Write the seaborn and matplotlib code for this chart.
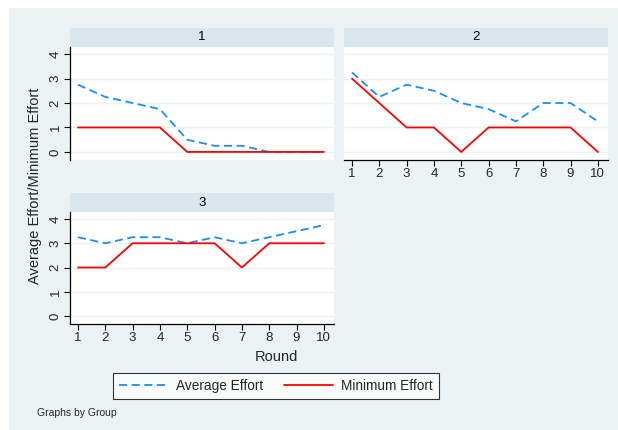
import matplotlib
matplotlib.use("Agg")
import matplotlib.pyplot as plt
import seaborn as sns
import pandas as pd
from matplotlib.lines import Line2D

sns.set_theme(style="white")
plt.rcParams['font.family'] = ['Liberation Sans', 'DejaVu Sans']

rounds = [1, 2, 3, 4, 5, 6, 7, 8, 9, 10]
groups = ["1", "2", "3"]
avg_effort = {
    "1": [2.75, 2.25, 2.0, 1.75, 0.5, 0.25, 0.25, 0.0, 0.0, 0.0],
    "2": [3.25, 2.25, 2.75, 2.5, 2.0, 1.75, 1.25, 2.0, 2.0, 1.25],
    "3": [3.25, 3.0, 3.25, 3.25, 3.0, 3.25, 3.0, 3.25, 3.5, 3.75],
}
min_effort = {
    "1": [1, 1, 1, 1, 0, 0, 0, 0, 0, 0],
    "2": [3, 2, 1, 1, 0, 1, 1, 1, 1, 0],
    "3": [2, 2, 3, 3, 3, 3, 2, 3, 3, 3],
}
yticks = [0, 1, 2, 3, 4]
legend_labels = ["Average Effort", "Minimum Effort"]

W, H = 618, 430
BG = "#EAF2F3"
STRIP = "#D9E6EC"
BLUE = "#1A8CFF"
RED = "#FF0000"

fig = plt.figure(figsize=(W / 100, H / 100), dpi=100)
fig.patch.set_facecolor("white")
fig.add_artist(plt.Rectangle((9 / W, 0), 1 - 9 / W, 1 - 8 / H, transform=fig.transFigure,
                             facecolor=BG, edgecolor="none", zorder=-10))


def box(x0, y0, x1, y1):
    return [x0 / W, 1 - y1 / H, (x1 - x0) / W, (y1 - y0) / H]


layout = {
    "1": dict(x0=70, x1=334, ys=28, yp=47, yb=160, left=True, bottom=False),
    "2": dict(x0=344, x1=608, ys=28, yp=47, yb=160, left=False, bottom=True),
    "3": dict(x0=70, x1=334, ys=193, yp=212, yb=324, left=True, bottom=True),
}

for g in groups:
    L = layout[g]
    sax = fig.add_axes(box(L["x0"], L["ys"], L["x1"], L["yp"]))
    sax.set_facecolor(STRIP)
    sax.set_xticks([]); sax.set_yticks([])
    for s in sax.spines.values():
        s.set_visible(False)
    sax.text(0.5, 0.5, g, ha="center", va="center", fontsize=9.5, color="black",
             transform=sax.transAxes)

    ax = fig.add_axes(box(L["x0"], L["yp"], L["x1"], L["yb"]))
    ax.set_facecolor("white")
    df = pd.DataFrame({"Round": rounds, "avg": avg_effort[g], "min": min_effort[g]})
    for yv in yticks:
        ax.axhline(yv, color=BG, lw=1.0, zorder=0)
    sns.lineplot(data=df, x="Round", y="avg", ax=ax, color=BLUE, lw=1.3,
                 linestyle=(0, (4.5, 2.5)), zorder=3)
    sns.lineplot(data=df, x="Round", y="min", ax=ax, color=RED, lw=1.3, zorder=3)
    ax.set_xlim(0.71, 10.37)
    ax.set_ylim(-0.33, 4.29)
    ax.set_xlabel(""); ax.set_ylabel("")
    for s in ["top", "right"]:
        ax.spines[s].set_visible(False)
    ax.spines["left"].set_visible(L["left"])
    ax.spines["bottom"].set_visible(L["bottom"])
    ax.spines["left"].set_color("black"); ax.spines["bottom"].set_color("black")
    ax.spines["left"].set_linewidth(0.9); ax.spines["bottom"].set_linewidth(0.9)
    if L["left"]:
        ax.set_yticks(yticks)
        ax.set_yticklabels([str(v) for v in yticks], rotation=90, va="center", fontsize=9.5)
        ax.tick_params(axis="y", left=True, length=4, width=0.8, color="black", pad=2)
    else:
        ax.set_yticks([])
    if L["bottom"]:
        ax.set_xticks(rounds)
        ax.set_xticklabels([str(r) for r in rounds], fontsize=9.5)
        ax.tick_params(axis="x", bottom=True, length=4, width=0.8, color="black", pad=2)
    else:
        ax.set_xticks([])
    ax.grid(False)

fig.text(35 / W, 1 - 186 / H, "Average Effort/Minimum Effort", rotation=90,
         ha="center", va="center", fontsize=10.5)
fig.text(276 / W, 1 - 357 / H, "Round", ha="center", va="center", fontsize=10.5)
fig.text(37 / W, 1 - 413 / H, "Graphs by Group", ha="left", va="center", fontsize=7.5)

handles = [Line2D([0], [0], color=BLUE, lw=1.3, linestyle=(0, (4.5, 2.5))),
           Line2D([0], [0], color=RED, lw=1.3)]
leg = fig.legend(handles, legend_labels, ncol=2, loc="center",
                 bbox_to_anchor=(276 / W, 1 - 386 / H), frameon=True, fontsize=9.8,
                 handlelength=3.6, columnspacing=1.5, borderpad=0.45, fancybox=False,
                 handletextpad=0.6, borderaxespad=0)
leg.get_frame().set_edgecolor("black")
leg.get_frame().set_linewidth(0.8)
leg.get_frame().set_facecolor("white")

fig.savefig("out.png", dpi=100, facecolor=fig.get_facecolor())
